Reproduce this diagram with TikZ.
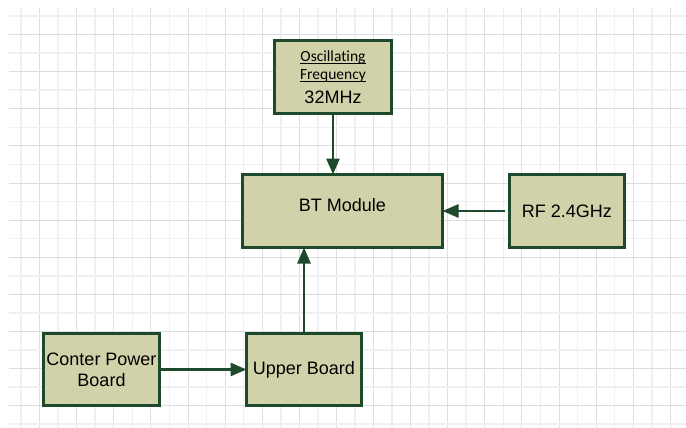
\documentclass[tikz,border=0pt]{standalone}
\usepackage{fontspec}
\setmainfont{Liberation Sans}
\newfontfamily\carlito[Ligatures=CommonOff]{Carlito}
\usetikzlibrary{arrows.meta}
\definecolor{boxfill}{RGB}{210,210,170}
\definecolor{boxline}{RGB}{29,74,43}
\definecolor{gridlight}{RGB}{240,240,240}
\definecolor{griddark}{RGB}{222,222,222}
\newcommand{\wordul}[1]{\setbox0\hbox{#1}\rlap{\rule[-2.5pt]{\wd0}{0.9pt}}\box0}
\newcommand{\oscfont}{\carlito\fontsize{15.5}{17}\selectfont}

\begin{document}
\begin{tikzpicture}[y=1pt, x=1pt, yscale=-1, inner sep=0pt, outer sep=0pt,
  block/.style={draw=boxline, fill=boxfill, line width=3pt, align=center,
    font=\fontsize{18}{21}\selectfont},
  flow/.style={draw=boxline, line width=2.8pt, -{Triangle[length=16pt,width=13pt]}}]
  \useasboundingbox (0,0) rectangle (686,428);
  % grid
  \foreach \k in {0,...,35} {
    \pgfmathsetmacro{\gx}{21+18.55*\k}
    \ifodd\k
      \path[draw=griddark,line width=0.9pt] (\gx,8) -- (\gx,428);
    \else
      \path[draw=gridlight,line width=1.6pt] (\gx,8) -- (\gx,428);
    \fi
  }
  \foreach \k in {0,...,22} {
    \pgfmathsetmacro{\gy}{16+18.55*\k}
    \ifodd\k
      \path[draw=griddark,line width=0.9pt] (9,\gy) -- (686,\gy);
    \else
      \path[draw=gridlight,line width=1.6pt] (9,\gy) -- (686,\gy);
    \fi
  }
  % blocks
  \node[block, minimum width=117pt, minimum height=73pt] (osc) at (333,77)
    {\oscfont\wordul{Oscillating}\\[-2.5pt] \oscfont\wordul{Frequency}\\[2.5pt]
     \normalfont\fontsize{18}{21}\selectfont 32MHz};
  \node[block, minimum width=200pt, minimum height=73pt, text depth=13pt] (bt)
    at (342.5,211) {BT Module};
  \node[block, minimum width=115pt, minimum height=73pt] (rf) at (567,211)
    {RF 2.4GHz};
  \node[block, minimum width=116pt, minimum height=72pt] (cpb) at (101.5,369.5)
    {Conter Power\\Board};
  \node[block, minimum width=115pt, minimum height=72pt] (ub) at (304,369.5)
    {Upper Board};
  % connectors
  \path[flow] (osc.south) -- (osc.south |- bt.north);
  \path[flow, shorten <=5pt] (rf.west) -- (rf.west -| bt.east);
  \path[flow] (cpb.east) -- (ub.west);
  \path[flow] (ub.north) -- (ub.north |- bt.south);
\end{tikzpicture}
\end{document}
